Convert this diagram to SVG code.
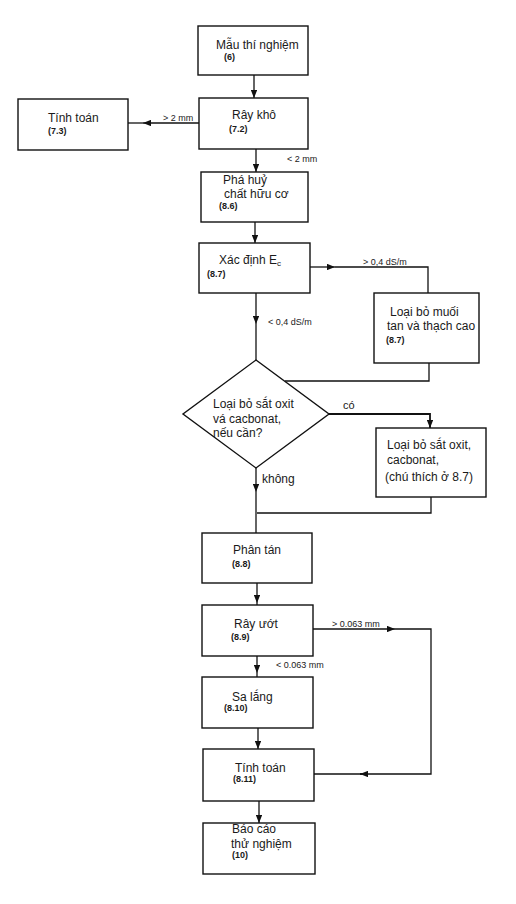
<svg xmlns="http://www.w3.org/2000/svg" width="516" height="904" viewBox="0 0 516 904">
<defs>
<marker id="ah" viewBox="0 0 10 8" refX="10" refY="4" markerWidth="8" markerHeight="6.4" markerUnits="userSpaceOnUse" orient="auto">
<path d="M0,0 L10,4 L0,8 Z" fill="#111"/>
</marker>
<style>
.box{fill:#fff;stroke:#111;stroke-width:1.4}
.t{font-family:"Liberation Sans",Arial,sans-serif;font-size:12px;fill:#1a1a1a}
.r{font-family:"Liberation Sans",Arial,sans-serif;font-size:9px;fill:#1a1a1a;font-weight:bold}
.l{font-family:"Liberation Sans",Arial,sans-serif;font-size:9px;fill:#1a1a1a}
.c{fill:none;stroke:#111;stroke-width:1.3}
.a{fill:none;stroke:#111;stroke-width:1.3;marker-end:url(#ah)}
</style>
</defs>
<rect width="516" height="904" fill="#fff"/>

<g id="connectors">
<path class="a" d="M254,75 V98"/>
<path class="a" d="M199,123 H143"/><path class="c" d="M143,123 H128"/>
<path class="a" d="M256,149 V172"/>
<path class="a" d="M255,222 V243"/>
<path class="a" d="M310,267 H335"/><path class="c" d="M335,267 H428 V293"/>
<path class="a" d="M256,293 V324"/><path class="c" d="M256,324 V360"/>
<path class="c" d="M429,363 V381 H285"/>
<path class="a" d="M329,414 H430 V428" style="stroke-width:1.8"/>
<path class="a" d="M256,468 V492"/><path class="c" d="M256,492 V533"/>
<path class="c" d="M431,497 V513 H257"/>
<path class="a" d="M257,583 V603"/><path class="c" d="M257,603 V605"/>
<path class="a" d="M313,629 H395"/><path class="c" d="M395,629 H431 V774 H360"/>
<path class="a" d="M362,774 H360"/><path class="c" d="M362,774 H314"/>
<path class="a" d="M257,656 V673"/><path class="c" d="M257,673 V677"/>
<path class="a" d="M258,728 V749"/>
<path class="a" d="M259,801 V823"/>
<text class="l" x="163" y="121">&gt; 2 mm</text>
<text class="l" x="287" y="162">&lt; 2 mm</text>
<text class="l" x="363" y="265">&gt; 0,4 dS/m</text>
<text class="l" x="268" y="325">&lt; 0,4 dS/m</text>
<text class="t" x="343" y="409" style="font-size:11px">có</text>
<text class="t" x="262" y="483">không</text>
<text class="l" x="332" y="627">&gt; 0.063 mm</text>
<text class="l" x="276" y="668">&lt; 0.063 mm</text>
</g>

<g id="mau-thi-nghiem">
<rect class="box" x="198" y="26" width="110" height="49"/>
<text class="t" x="216" y="49">Mẫu thí nghiệm</text>
<text class="r" x="224" y="60">(6)</text>
</g>

<g id="ray-kho">
<rect class="box" x="199" y="98" width="109" height="51"/>
<text class="t" x="232" y="119">Rây khô</text>
<text class="r" x="229" y="132">(7.2)</text>
</g>

<g id="tinh-toan-73">
<rect class="box" x="18" y="99" width="110" height="51"/>
<text class="t" x="48" y="122">Tính toán</text>
<text class="r" x="48" y="134">(7.3)</text>
</g>

<g id="pha-huy">
<rect class="box" x="201" y="172" width="107" height="50"/>
<text class="t" x="223" y="184">Phá huỷ</text>
<text class="t" x="224" y="198">chất hữu cơ</text>
<text class="r" x="219" y="209">(8.6)</text>
</g>

<g id="xac-dinh-ec">
<rect class="box" x="199" y="243" width="111" height="50"/>
<text class="t" x="219" y="264">Xác định E<tspan font-size="8" dy="2">c</tspan></text>
<text class="r" x="207" y="277">(8.7)</text>
</g>

<g id="loai-bo-muoi">
<rect class="box" x="374" y="293" width="105" height="70"/>
<text class="t" x="390" y="316">Loại bỏ muối</text>
<text class="t" x="387" y="330">tan và thạch cao</text>
<text class="r" x="386" y="343">(8.7)</text>
</g>

<g id="quyet-dinh">
<path class="box" d="M256,360 L329,414 L256,468 L183,414 Z"/>
<text class="t" x="213" y="408">Loại bỏ sắt oxit</text>
<text class="t" x="213" y="423">vá cacbonat,</text>
<text class="t" x="213" y="437">nếu cần?</text>
</g>

<g id="loai-bo-sat">
<rect class="box" x="376" y="428" width="110" height="69"/>
<text class="t" x="387" y="449">Loại bỏ sắt oxit,</text>
<text class="t" x="387" y="464">cacbonat,</text>
<text class="t" x="385" y="481">(chú thích ở 8.7)</text>
</g>

<g id="phan-tan">
<rect class="box" x="202" y="533" width="110" height="50"/>
<text class="t" x="233" y="554">Phân tán</text>
<text class="r" x="232" y="567">(8.8)</text>
</g>

<g id="ray-uot">
<rect class="box" x="202" y="605" width="111" height="51"/>
<text class="t" x="234" y="628">Rây ướt</text>
<text class="r" x="231" y="640">(8.9)</text>
</g>

<g id="sa-lang">
<rect class="box" x="202" y="677" width="111" height="51"/>
<text class="t" x="232" y="701">Sa lắng</text>
<text class="r" x="224" y="711">(8.10)</text>
</g>

<g id="tinh-toan-811">
<rect class="box" x="203" y="749" width="111" height="52"/>
<text class="t" x="235" y="772">Tính toán</text>
<text class="r" x="233" y="782">(8.11)</text>
</g>

<g id="bao-cao">
<rect class="box" x="203" y="823" width="112" height="51"/>
<text class="t" x="232" y="833">Báo cáo</text>
<text class="t" x="231" y="848">thử nghiệm</text>
<text class="r" x="232" y="858">(10)</text>
</g>
</svg>
